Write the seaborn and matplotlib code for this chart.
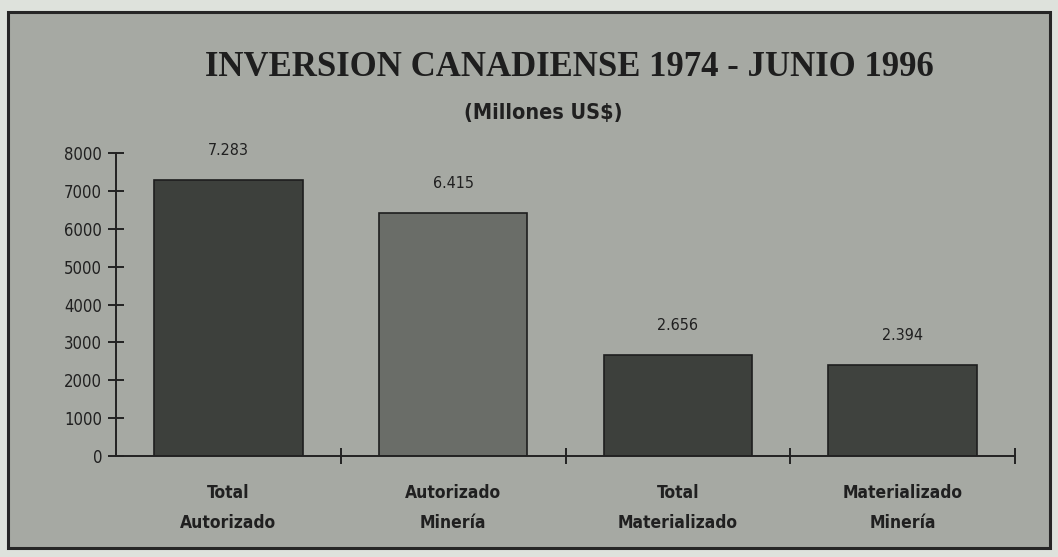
import pandas as pd
import matplotlib
matplotlib.use("Agg")
import matplotlib.pyplot as plt
import matplotlib.patches as patches
import seaborn as sns

categorias = ["Total\nAutorizado", "Autorizado\nMinería", "Total\nMaterializado", "Materializado\nMinería"]
valores = [7283, 6415, 2656, 2394]
etiquetas = ["7.283", "6.415", "2.656", "2.394"]
colores = ["#3d403c", "#6a6d68", "#3d403c", "#3f423e"]
yticks = [0, 1000, 2000, 3000, 4000, 5000, 6000, 7000, 8000]

sns.set_theme(style="white")
plt.rcParams["font.family"] = ["DejaVu Sans"]
plt.rcParams["font.stretch"] = "condensed"

fig = plt.figure(figsize=(10.58, 5.57), dpi=100)
fig.patch.set_facecolor("#dee2dc")

# marco gris del grafico
marco = patches.Rectangle((8 / 1058, 1 - 548 / 557), 1042 / 1058, 536 / 557,
                          transform=fig.transFigure, facecolor="#a6a9a3",
                          edgecolor="#262626", linewidth=2.2, zorder=-10)
fig.patches.append(marco)

ax = fig.add_axes([116 / 1058, 1 - 456 / 557, 899 / 1058, 303 / 557])
ax.set_facecolor("none")

df = pd.DataFrame({"categoria": categorias, "valor": valores})
sns.barplot(data=df, x="categoria", y="valor", hue="categoria", palette=colores,
            legend=False, width=0.66, edgecolor="#1e1e1e", linewidth=1.2,
            saturation=1, ax=ax)

for i, (v, t) in enumerate(zip(valores, etiquetas)):
    ax.annotate(t, (i, v), xytext=(0, 16), textcoords="offset points",
                ha="center", va="bottom", fontsize=11.5, color="#202020")

ax.set_xlim(-0.5, 3.5)
ax.set_ylim(0, 8000)
ax.set_yticks(yticks)
ax.set_yticklabels([str(y) for y in yticks])
ax.set_xticks([0.5, 1.5, 2.5, 3.5], minor=True)
ax.tick_params(axis="y", direction="inout", length=12, width=1.4, color="#222222",
               labelsize=12, pad=4, labelcolor="#202020", left=True)
ax.tick_params(axis="x", which="major", length=0, pad=20, labelsize=12.5,
               labelcolor="#202020")
ax.tick_params(axis="x", which="minor", direction="inout", length=12, width=1.4,
               color="#222222", bottom=True)
for lbl in ax.get_xticklabels():
    lbl.set_linespacing(1.85)
    lbl.set_fontweight("bold")

ax.set_xlabel("")
ax.set_ylabel("")
sns.despine(ax=ax)
for s in ["left", "bottom"]:
    ax.spines[s].set_color("#222222")
    ax.spines[s].set_linewidth(1.4)

fig.text(0.5385, 1 - 67 / 557, "INVERSION CANADIENSE 1974 - JUNIO 1996",
         ha="center", va="center", fontsize=25, fontweight="bold",
         family=["Liberation Serif", "DejaVu Serif"], color="#1e1e1e")
fig.text(0.513, 1 - 113 / 557, "(Millones US$)", ha="center", va="center",
         fontsize=15.5, fontweight="bold", color="#202020")

fig.savefig("out.png", dpi=100, facecolor=fig.get_facecolor())
